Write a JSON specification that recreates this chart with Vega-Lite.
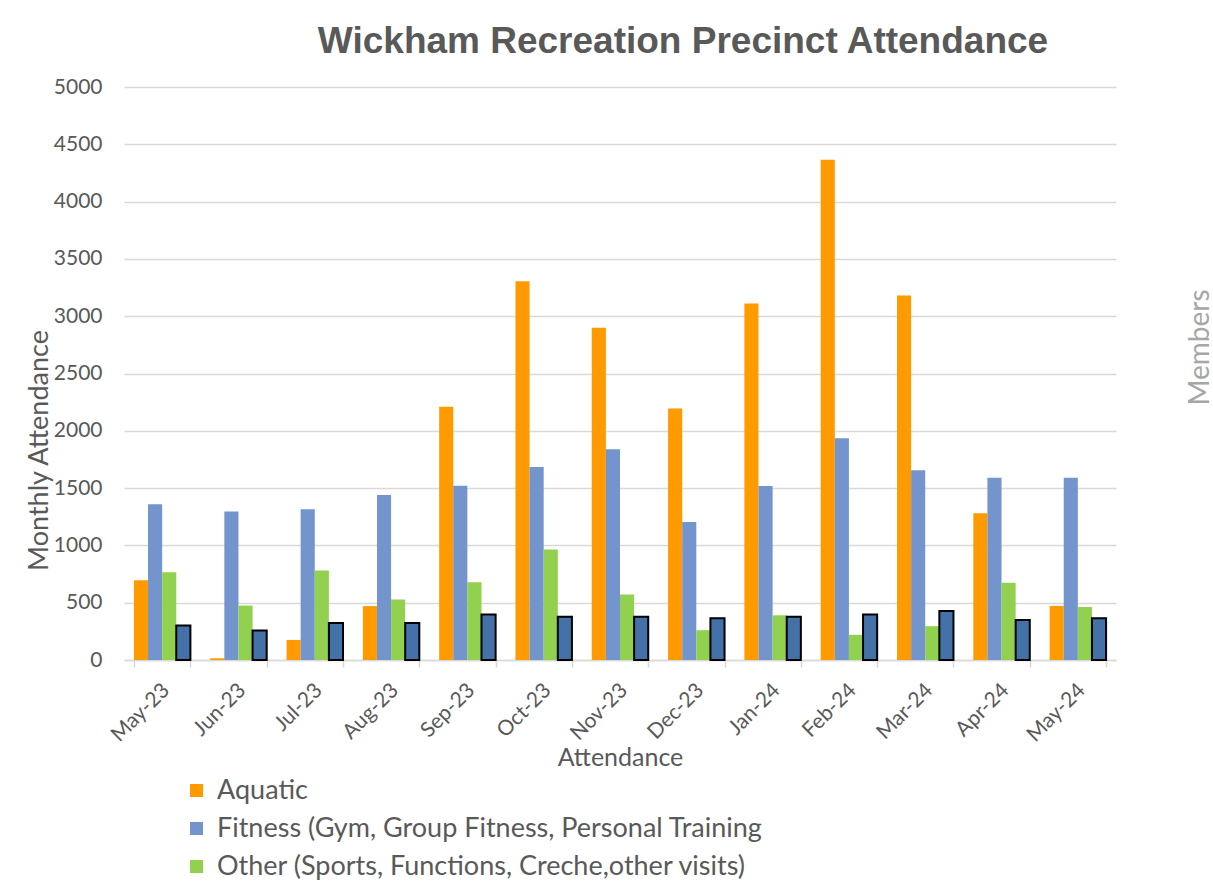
{
  "$schema": "https://vega.github.io/schema/vega-lite/v6.json",
  "autosize": "none",
  "width": 992,
  "height": 573,
  "padding": {"left": 124, "top": 87, "right": 97, "bottom": 221},
  "background": "white",
  "title": {
    "text": "Wickham Recreation Precinct Attendance",
    "font": "Liberation Sans Narrow, Liberation Sans",
    "fontSize": 37,
    "fontWeight": "bold",
    "color": "#595959",
    "anchor": "middle",
    "frame": "group",
    "dx": 63,
    "baseline": "alphabetic",
    "offset": -14
  },
  "data": {
    "values": [
      {"month": "May-23", "series": "Aquatic", "value": 695},
      {"month": "May-23", "series": "Fitness (Gym, Group Fitness, Personal Training", "value": 1360},
      {"month": "May-23", "series": "Other (Sports, Functions, Creche,other visits)", "value": 765},
      {"month": "May-23", "series": "Members", "value": 300},
      {"month": "Jun-23", "series": "Aquatic", "value": 15},
      {"month": "Jun-23", "series": "Fitness (Gym, Group Fitness, Personal Training", "value": 1295},
      {"month": "Jun-23", "series": "Other (Sports, Functions, Creche,other visits)", "value": 475},
      {"month": "Jun-23", "series": "Members", "value": 258},
      {"month": "Jul-23", "series": "Aquatic", "value": 175},
      {"month": "Jul-23", "series": "Fitness (Gym, Group Fitness, Personal Training", "value": 1315},
      {"month": "Jul-23", "series": "Other (Sports, Functions, Creche,other visits)", "value": 780},
      {"month": "Jul-23", "series": "Members", "value": 322},
      {"month": "Aug-23", "series": "Aquatic", "value": 470},
      {"month": "Aug-23", "series": "Fitness (Gym, Group Fitness, Personal Training", "value": 1440},
      {"month": "Aug-23", "series": "Other (Sports, Functions, Creche,other visits)", "value": 528},
      {"month": "Aug-23", "series": "Members", "value": 322},
      {"month": "Sep-23", "series": "Aquatic", "value": 2210},
      {"month": "Sep-23", "series": "Fitness (Gym, Group Fitness, Personal Training", "value": 1520},
      {"month": "Sep-23", "series": "Other (Sports, Functions, Creche,other visits)", "value": 678},
      {"month": "Sep-23", "series": "Members", "value": 398},
      {"month": "Oct-23", "series": "Aquatic", "value": 3305},
      {"month": "Oct-23", "series": "Fitness (Gym, Group Fitness, Personal Training", "value": 1685},
      {"month": "Oct-23", "series": "Other (Sports, Functions, Creche,other visits)", "value": 965},
      {"month": "Oct-23", "series": "Members", "value": 378},
      {"month": "Nov-23", "series": "Aquatic", "value": 2900},
      {"month": "Nov-23", "series": "Fitness (Gym, Group Fitness, Personal Training", "value": 1840},
      {"month": "Nov-23", "series": "Other (Sports, Functions, Creche,other visits)", "value": 572},
      {"month": "Nov-23", "series": "Members", "value": 378},
      {"month": "Dec-23", "series": "Aquatic", "value": 2195},
      {"month": "Dec-23", "series": "Fitness (Gym, Group Fitness, Personal Training", "value": 1205},
      {"month": "Dec-23", "series": "Other (Sports, Functions, Creche,other visits)", "value": 260},
      {"month": "Dec-23", "series": "Members", "value": 365},
      {"month": "Jan-24", "series": "Aquatic", "value": 3110},
      {"month": "Jan-24", "series": "Fitness (Gym, Group Fitness, Personal Training", "value": 1518},
      {"month": "Jan-24", "series": "Other (Sports, Functions, Creche,other visits)", "value": 390},
      {"month": "Jan-24", "series": "Members", "value": 378},
      {"month": "Feb-24", "series": "Aquatic", "value": 4365},
      {"month": "Feb-24", "series": "Fitness (Gym, Group Fitness, Personal Training", "value": 1935},
      {"month": "Feb-24", "series": "Other (Sports, Functions, Creche,other visits)", "value": 220},
      {"month": "Feb-24", "series": "Members", "value": 398},
      {"month": "Mar-24", "series": "Aquatic", "value": 3180},
      {"month": "Mar-24", "series": "Fitness (Gym, Group Fitness, Personal Training", "value": 1655},
      {"month": "Mar-24", "series": "Other (Sports, Functions, Creche,other visits)", "value": 295},
      {"month": "Mar-24", "series": "Members", "value": 428},
      {"month": "Apr-24", "series": "Aquatic", "value": 1280},
      {"month": "Apr-24", "series": "Fitness (Gym, Group Fitness, Personal Training", "value": 1590},
      {"month": "Apr-24", "series": "Other (Sports, Functions, Creche,other visits)", "value": 675},
      {"month": "Apr-24", "series": "Members", "value": 350},
      {"month": "May-24", "series": "Aquatic", "value": 472},
      {"month": "May-24", "series": "Fitness (Gym, Group Fitness, Personal Training", "value": 1590},
      {"month": "May-24", "series": "Other (Sports, Functions, Creche,other visits)", "value": 463},
      {"month": "May-24", "series": "Members", "value": 365}
    ]
  },
  "encoding": {
    "x": {
      "field": "month",
      "type": "nominal",
      "sort": ["May-23","Jun-23","Jul-23","Aug-23","Sep-23","Oct-23","Nov-23","Dec-23","Jan-24","Feb-24","Mar-24","Apr-24","May-24"],
      "scale": {"paddingInner": 0.26, "paddingOuter": 0.13},
      "axis": {
        "title": "Attendance",
        "titleFont": "Lato",
        "titleFontSize": 25,
        "titleFontWeight": "normal",
        "titleColor": "#595959",
        "titleBaseline": "middle",
        "titleY": 97,
        "labelFont": "Lato",
        "labelFontSize": 21,
        "labelColor": "#595959",
        "labelAngle": -45,
        "labelPadding": 12,
        "labelOffset": -4,
        "tickBand": "extent",
        "tickColor": "#d9d9d9",
        "tickSize": 7,
        "tickWidth": 1.5,
        "domainColor": "#d9d9d9",
        "domainWidth": 1.5,
        "grid": false
      }
    },
    "xOffset": {
      "field": "series",
      "type": "nominal",
      "sort": ["Aquatic","Fitness (Gym, Group Fitness, Personal Training","Other (Sports, Functions, Creche,other visits)","Members"],
      "scale": {"domain": ["Aquatic","Fitness (Gym, Group Fitness, Personal Training","Other (Sports, Functions, Creche,other visits)","Members"], "paddingInner": 0, "paddingOuter": 0}
    },
    "color": {
      "field": "series",
      "type": "nominal",
      "scale": {
        "domain": ["Aquatic","Fitness (Gym, Group Fitness, Personal Training","Other (Sports, Functions, Creche,other visits)","Members"],
        "range": ["#FF9A00","#7394CC","#92D050","#4472A8"]
      },
      "legend": {
        "title": null,
        "orient": "none",
        "legendX": 59,
        "legendY": 690,
        "direction": "vertical",
        "values": ["Aquatic","Fitness (Gym, Group Fitness, Personal Training","Other (Sports, Functions, Creche,other visits)"],
        "symbolType": "square",
        "symbolSize": 170,
        "symbolStrokeWidth": 0,
        "labelFont": "Lato",
        "labelFontSize": 27,
        "labelColor": "#595959",
        "labelLimit": 900,
        "rowPadding": 10,
        "labelOffset": 7
      }
    }
  },
  "layer": [
    {
      "transform": [{"filter": "datum.series !== 'Members'"}],
      "mark": {"type": "bar"},
      "encoding": {
        "y": {
          "field": "value",
          "type": "quantitative",
          "scale": {"domain": [0, 5000], "nice": false},
          "axis": {
            "title": "Monthly Attendance",
            "titleFont": "Lato",
            "titleFontSize": 27,
            "titleFontWeight": "normal",
            "titleColor": "#595959",
            "titleBaseline": "middle",
            "titleX": -85,
            "titleY": 363,
            "values": [0,500,1000,1500,2000,2500,3000,3500,4000,4500,5000],
            "format": "d",
            "labelFont": "Lato",
            "labelFontSize": 21,
            "labelColor": "#595959",
            "labelPadding": 22,
            "ticks": false,
            "domain": false,
            "grid": true,
            "gridColor": "#d9d9d9",
            "gridWidth": 1.5
          }
        }
      }
    },
    {
      "transform": [{"filter": "datum.series === 'Members'"}],
      "mark": {"type": "bar", "stroke": "black", "strokeWidth": 2},
      "encoding": {
        "y": {
          "field": "value",
          "type": "quantitative",
          "scale": {"domain": [0, 5000], "nice": false},
          "axis": {
            "orient": "right",
            "title": "Members",
            "titleFont": "Lato",
            "titleFontSize": 28,
            "titleFontWeight": "normal",
            "titleColor": "#A6A6A6",
            "titleAngle": -90,
            "titleBaseline": "middle",
            "titleX": 84,
            "titleY": 260,
            "labels": false,
            "ticks": false,
            "domain": false,
            "grid": false
          }
        }
      }
    }
  ],
  "resolve": {"scale": {"y": "independent"}},
  "config": {"view": {"stroke": null}}
}
